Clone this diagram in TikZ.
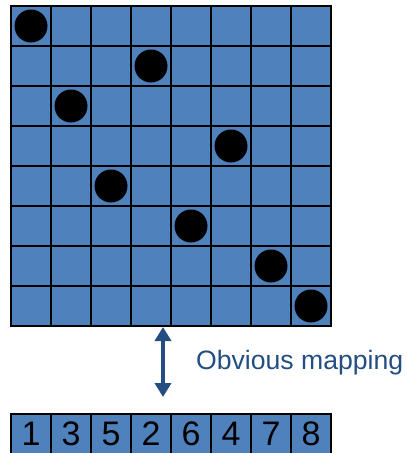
\documentclass[tikz,border=0pt]{standalone}
\usepackage{fontspec}
\setmainfont{Liberation Sans}
\definecolor{BoardBlue}{RGB}{79, 129, 189}
\definecolor{MapBlue}{RGB}{36, 78, 130}
\usetikzlibrary{positioning, arrows.meta, calc}

\begin{document}
\begin{tikzpicture}[x=1pt, y=1pt, cellbox/.style={rectangle, draw, line width=1.3pt, fill=BoardBlue, outer sep=0pt, inner sep=0pt, minimum size=40pt, font=\fontsize{34}{34}\selectfont}, queen/.style={circle, fill=black, inner sep=0pt, minimum size=33pt}]
\useasboundingbox (0,0) rectangle (407,-453);
\node (board) [rectangle, draw, line width=1.3pt, fill=BoardBlue, outer sep=0pt, minimum size=320pt] at (171,-166) {};
\foreach \i in {1,...,7} {
  \draw[line width=1.3pt] ([xshift=40*\i]board.north west) -- ([xshift=40*\i]board.south west);
  \draw[line width=1.3pt] ([yshift=-40*\i]board.north west) -- ([yshift=-40*\i]board.north east);
}
\foreach \c/\r in {1/1, 2/3, 3/5, 4/2, 5/6, 6/4, 7/7, 8/8}
  \node (dot\c) [queen] at ([xshift=40*\c-20, yshift=-40*\r+20]board.north west) {};
\node (c1) [cellbox, below right=88pt and 0pt of board.south west] {1};
\node (c2) [cellbox, right=0pt of c1] {3};
\node (c3) [cellbox, right=0pt of c2] {5};
\node (c4) [cellbox, right=0pt of c3] {2};
\node (c5) [cellbox, right=0pt of c4] {6};
\node (c6) [cellbox, right=0pt of c5] {4};
\node (c7) [cellbox, right=0pt of c6] {7};
\node (c8) [cellbox, right=0pt of c7] {8};
\coordinate (maptop) at ([xshift=-8, yshift=-1]board.south);
\coordinate (mapbot) at ([xshift=-8, yshift=17]c5.north west);
\coordinate (mapmid) at ($(maptop)!0.5!(mapbot)+(0,-1)$);
\node (maptext) [right=31pt of mapmid, inner sep=2pt, text=MapBlue, font=\fontsize{26.6}{27}\selectfont] {Obvious mapping};
\draw[{Triangle[width=16pt, length=14pt]}-{Triangle[width=16pt, length=14pt]}, line width=4.5pt, MapBlue] (maptop) -- (mapbot);
\end{tikzpicture}
\end{document}
